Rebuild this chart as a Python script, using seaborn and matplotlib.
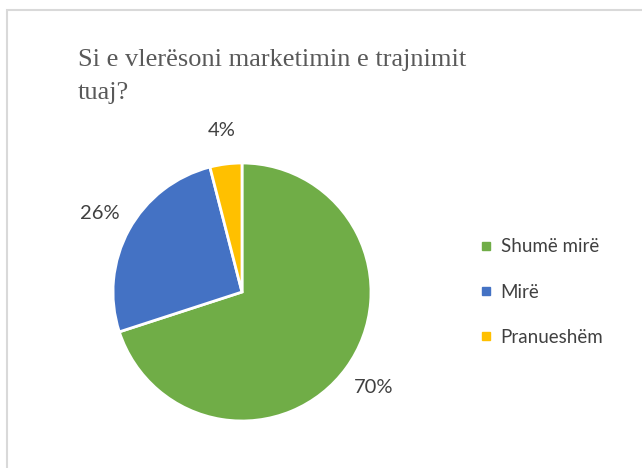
import matplotlib.pyplot as plt
import matplotlib.patches as mpatches
from matplotlib.lines import Line2D
import seaborn as sns

# data
categories = ['Shumë mirë', 'Mirë', 'Pranueshëm']
values = [70, 26, 4]
colors = ['#70AD47', '#4472C4', '#FFC000']
title = 'Si e vlerësoni marketimin e trajnimit\ntuaj?'

sns.set_theme(style='white')
plt.rcParams['font.family'] = ['Lato', 'DejaVu Sans']

W, H = 642, 468
fig = plt.figure(figsize=(W / 100, H / 100), dpi=100)

# light gray frame like the office chart area
fig.patches.append(mpatches.Rectangle((7 / W, -0.05), 1.2, (H - 10) / H + 0.05,
                                      transform=fig.transFigure, fill=False,
                                      edgecolor='#D9D9D9', linewidth=1.5))

# pie: center (242, 292), radius 129 px
cx, cy, r = 242, 292, 129
ax = fig.add_axes([(cx - r) / W, (H - cy - r) / H, 2 * r / W, 2 * r / H])
wedges, texts, autotexts = ax.pie(values, colors=colors, startangle=90, counterclock=False,
                                  autopct='%1.0f%%', pctdistance=1.26,
                                  wedgeprops=dict(edgecolor='white', linewidth=2),
                                  textprops=dict(color='#404040', fontsize=14.5))
ax.set_xlim(-1, 1)
ax.set_ylim(-1, 1)
ax.set_aspect('equal')
ax.axis('off')
for t in autotexts:
    t.set_clip_on(False)

# title, last line baseline at y=99
fig.text(78 / W, 1 - 99 / H, title, family=['Liberation Serif'], fontsize=19,
         color='#595959', ha='left', va='baseline', linespacing=1.65)

handles = [Line2D([], [], marker='s', linestyle='none', markersize=6,
                  markerfacecolor=c, markeredgecolor=c) for c in colors]
fig.legend(handles, categories, loc='center left', bbox_to_anchor=(480 / W, 1 - 292 / H),
           frameon=False, fontsize=13.5, labelcolor='#404040', handlelength=0.6,
           handletextpad=0.5, labelspacing=1.5, borderaxespad=0, borderpad=0)

fig.savefig('out.png', dpi=100)
